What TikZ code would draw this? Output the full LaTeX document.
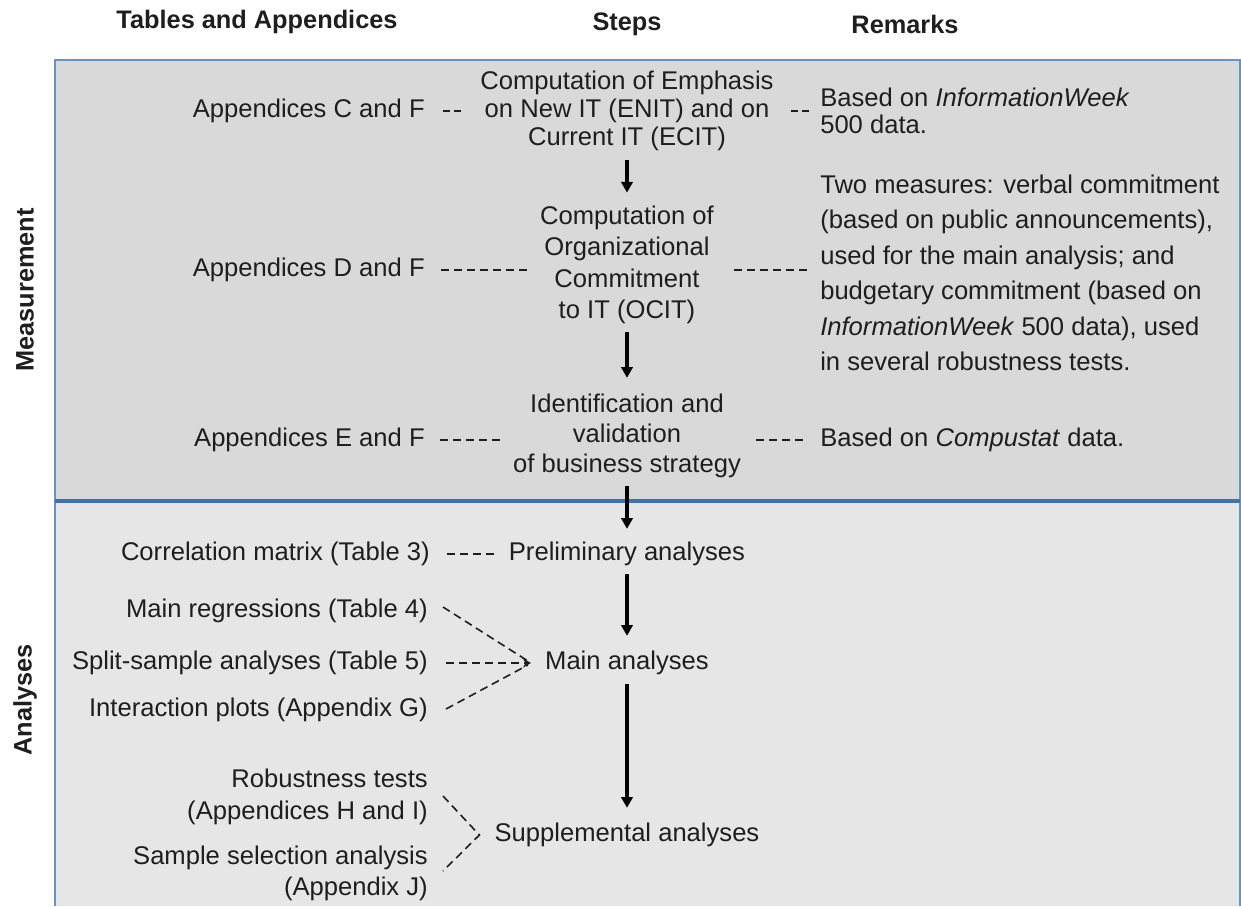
\documentclass[tikz,border=0pt]{standalone}
\usepackage{fontspec}
\setmainfont{Liberation Sans}
\usetikzlibrary{arrows.meta,calc}
\definecolor{topfill}{HTML}{D9D9D9}
\definecolor{botfill}{HTML}{E6E6E6}
\definecolor{framec}{HTML}{6A94BF}
\definecolor{dividerc}{HTML}{4672A3}
\definecolor{ink}{HTML}{1E1E1E}
\begin{document}
\begin{tikzpicture}[x=0.75pt,y=-0.75pt,
  txt/.style={inner sep=0pt, text=ink, font=\fontsize{19.2}{23.6}\selectfont},
  hdr/.style={inner sep=0pt, text=ink, font=\bfseries\fontsize{19}{22}\selectfont},
  flow/.style={draw=black, line width=2.5pt, -{Triangle[length=8pt,width=8.5pt]}},
  link/.style={draw=ink, line width=1.2pt, dash pattern=on 6pt off 3.75pt},
  shortlink/.style={link, dash pattern=on 5pt off 3.5pt},
  linktip/.style={link, -{Stealth[length=6pt,width=7pt]}}
]
\useasboundingbox (0,0) rectangle (1241,906);
% panels
\fill[topfill] (55,60) rectangle (1240,501);
\fill[botfill] (55,501) rectangle (1240,906);
\draw[framec, line width=0.9pt] (55,906) -- (55,60) -- (1240,60) -- (1240,906);
\draw[dividerc, line width=2.4pt] (55,501) -- (1240,501);

% headers
\node[hdr] (h1) at (257,22) {Tables and Appendices};
\node[hdr] (h2) at (627,24) {Steps};
\node[hdr] (h3) at (905,24) {Remarks};
\node[hdr, rotate=90] (v1) at (25,290) {Measurement};
\node[hdr, rotate=90] (v2) at (25,700) {Analyses};

% steps
\node[txt, align=center, font=\fontsize{19.2}{21}\selectfont] (S1) at (627,111)
  {Computation of Emphasis\\on New IT (ENIT) and on\\Current IT (ECIT)};
\node[txt, align=center, font=\fontsize{19.2}{23.6}\selectfont] (S2) at (627,265)
  {Computation of\\Organizational\\Commitment\\to IT (OCIT)};
\node[txt, align=center, font=\fontsize{19.2}{22.5}\selectfont] (S3) at (627,436)
  {Identification and\\validation\\of business strategy};
\node[txt] (S4) at (627,554) {Preliminary analyses};
\node[txt] (S5) at (627,663) {Main analyses};
\node[txt] (S6) at (627,835) {Supplemental analyses};

% left column
\node[txt, anchor=east] (L1) at (425,111) {Appendices C and F};
\node[txt, anchor=east] (L2) at (425,270) {Appendices D and F};
\node[txt, anchor=east] (L3) at (425,440) {Appendices E and F};
\node[txt, anchor=east] (L4) at (430,554) {Correlation matrix (Table 3)};
\node[txt, anchor=east] (L5) at (428,611) {Main regressions (Table 4)};
\node[txt, anchor=east] (L6) at (428,663) {Split-sample analyses (Table 5)};
\node[txt, anchor=east] (L7) at (428,710) {Interaction plots (Appendix G)};
\node[txt, anchor=east, align=right, font=\fontsize{19.2}{24}\selectfont] (L8) at (428,797)
  {Robustness tests\\(Appendices H and I)};
\node[txt, anchor=east, align=right, font=\fontsize{19.2}{23.3}\selectfont] (L9) at (428,873)
  {Sample selection analysis\\(Appendix J)};

% right column
\node[txt, anchor=west, align=left, font=\fontsize{19.2}{20.3}\selectfont] (R1) at (820,111)
  {Based on \textit{InformationWeek}\\500 data.};
\node[txt, anchor=west, align=left, font=\fontsize{19.2}{26.6}\selectfont] (R2) at (820,273)
  {Two measures: verbal commitment\\(based on public announcements),\\used for the main analysis; and\\budgetary commitment (based on\\\textit{InformationWeek} 500 data), used\\in several robustness tests.};
\node[txt, anchor=west] (R3) at (820,440) {Based on \textit{Compustat} data.};

% flow arrows
\draw[flow] ($(S1.south)+(0,9)$) -- ($(S2.north)+(0,-13)$);
\draw[flow] ($(S2.south)+(0,8)$) -- ($(S3.north)+(0,-16)$);
\draw[flow] ($(S3.south)+(0,8)$) -- ($(S4.north)+(0,-13)$);
\draw[flow] ($(S4.south)+(0,8)$) -- ($(S5.north)+(0,-15)$);
\draw[flow] ($(S5.south)+(0,9)$) -- ($(S6.north)+(0,-15)$);

% dashed links, measurement
\draw[shortlink] ($(L1.east)+(18,0)$) -- ($(L1.east -| S1.west)+(-15,0)$);
\draw[shortlink] ($(L1.east -| S1.east)+(17,0)$) -- ($(L1.east -| R1.west)+(-11,0)$);
\draw[link] ($(L2.east)+(16,0)$) -- ($(L2.east -| S2.west)+(-13,0)$);
\draw[link] ($(L2.east -| S2.east)+(20,0)$) -- ($(L2.east -| R2.west)+(-12,0)$);
\draw[link] ($(L3.east)+(15,0)$) -- ($(L3.east -| S3.west)+(-12,0)$);
\draw[link] ($(L3.east -| S3.east)+(15,0)$) -- ($(L3.east -| R3.west)+(-15,0)$);
% analyses
\draw[link] ($(L4.east)+(17,0)$) -- ($(S4.west)+(-13,0)$);
\coordinate (m5) at ($(S5.west)+(-14,0)$);
\draw[link] ($(L5.east)+(15,-4)$) -- ($(m5)+(-3,-2)$);
\draw[linktip] ($(L6.east)+(18,0)$) -- (m5);
\draw[link] ($(L7.east)+(18,-1)$) -- ($(m5)+(-3,2)$);
\coordinate (m6) at ($(S6.west)+(-15,0)$);
\draw[link] ($(L8.east)+(15,-1)$) -- (m6) -- ($(L9.east)+(15,-2)$);
\end{tikzpicture}
\end{document}
